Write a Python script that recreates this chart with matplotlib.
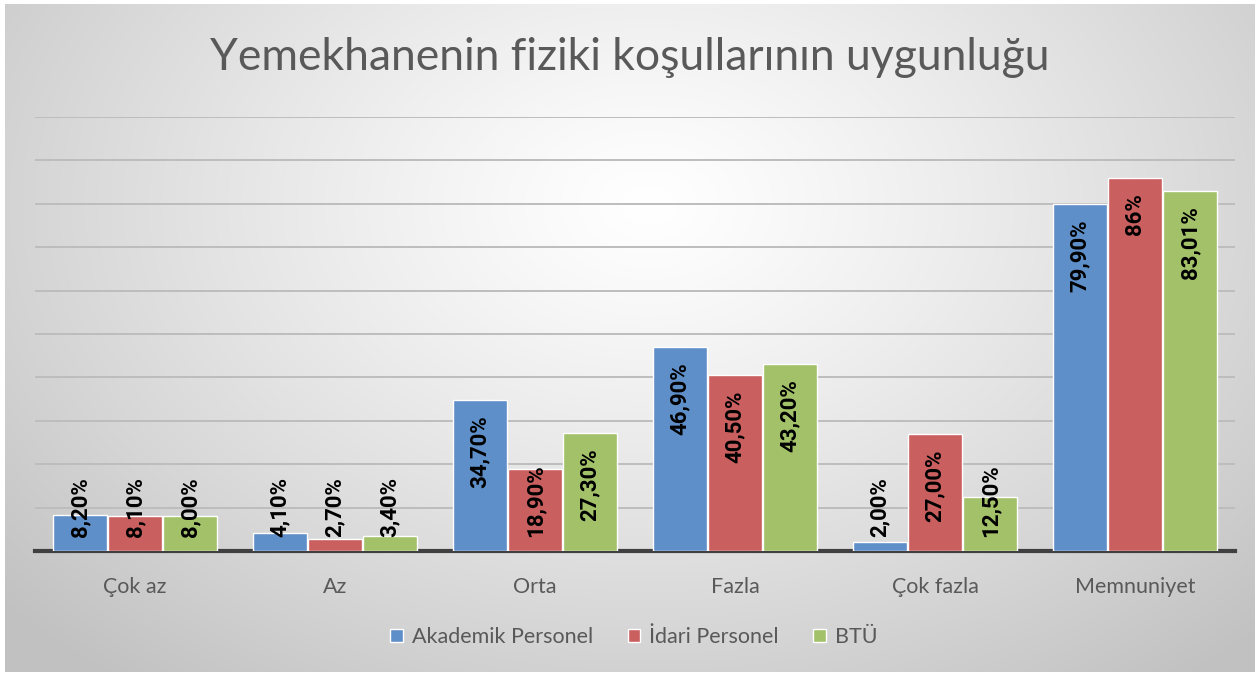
import numpy as np
import matplotlib
matplotlib.use("Agg")
import matplotlib.pyplot as plt

categories = ["Çok az", "Az", "Orta", "Fazla", "Çok fazla", "Memnuniyet"]
series_names = ["Akademik Personel", "İdari Personel", "BTÜ"]
akademik = [8.20, 4.10, 34.70, 46.90, 2.00, 79.90]
idari = [8.10, 2.70, 18.90, 40.50, 27.00, 86.00]
btu = [8.00, 3.40, 27.30, 43.20, 12.50, 83.01]
labels_akademik = ["8,20%", "4,10%", "34,70%", "46,90%", "2,00%", "79,90%"]
labels_idari = ["8,10%", "2,70%", "18,90%", "40,50%", "27,00%", "86%"]
labels_btu = ["8,00%", "3,40%", "27,30%", "43,20%", "12,50%", "83,01%"]
title = "Yemekhanenin fiziki koşullarının uygunluğu"

colors = ["#5F8FC9", "#C95F5E", "#A2C169"]

plt.rcParams['font.family'] = ['Lato', 'DejaVu Sans']

W, H = 1260, 675
fig = plt.figure(figsize=(W / 100, H / 100), dpi=100)
fig.patch.set_facecolor("white")

# background radial gradient
bg = fig.add_axes([5 / W, 3 / H, (W - 10) / W, (H - 7) / H])
bg.set_axis_off()
yy, xx = np.mgrid[0:400, 0:700]
cx, cy = 360, 120
d = np.sqrt(((xx - cx) / 480) ** 2 + ((yy - cy) / 360) ** 2)
d = np.clip(d, 0, 1)
val = 1.0 - 0.24 * d ** 1.2
img = np.dstack([val, val, val])
bg.imshow(img, aspect='auto', extent=[0, 1, 0, 1], origin='upper')
bg.set_xlim(0, 1)
bg.set_ylim(0, 1)

ax = fig.add_axes([35 / W, (H - 551) / H, 1200 / W, 434 / H])
ax.set_facecolor("none")
ax.set_xlim(-0.5, len(categories) - 0.5)
ax.set_ylim(0, 100)
ax.set_yticks(np.arange(0, 101, 10))
ax.yaxis.grid(True, color="#BDBDBD", linewidth=1.4)
ax.set_axisbelow(True)
ax.tick_params(axis='y', left=False, labelleft=False)
ax.tick_params(axis='x', bottom=False, labelsize=15.5, colors="#595959", pad=15)
for s in ["top", "right", "left"]:
    ax.spines[s].set_visible(False)
ax.spines["bottom"].set_color("#404040")
ax.spines["bottom"].set_linewidth(3)

x = np.arange(len(categories))
bw = 0.272
offsets = [-0.275, 0.0, 0.275]
all_vals = [akademik, idari, btu]
all_labels = [labels_akademik, labels_idari, labels_btu]
lab_font = dict(family=['Roboto', 'DejaVu Sans'], weight='bold', size=16)
for vals, labs, off, col, name in zip(all_vals, all_labels, offsets, colors, series_names):
    ax.bar(x + off, vals, bw, color=col, edgecolor="white", linewidth=1.0, label=name, zorder=3)
    for xi, v, lab in zip(x, vals, labs):
        if v > 20:
            ax.annotate(lab, (xi + off, v), xytext=(0, -11), textcoords='offset points',
                        rotation=90, ha='center', va='top', color='black', zorder=5,
                        **lab_font)
        else:
            ax.annotate(lab, (xi + off, 0), xytext=(0, 10), textcoords='offset points',
                        rotation=90, ha='center', va='bottom', color='black', zorder=5,
                        **lab_font)

ax.set_xticks(x)
ax.set_xticklabels(categories)

fig.text(0.5, (H - 58) / H, title, ha='center', va='center', fontsize=32,
         color="#595959", fontweight='normal')

leg = fig.legend(loc='center', bbox_to_anchor=(0.503, (H - 637) / H), ncol=3,
                 frameon=False, fontsize=15.5, handlelength=0.6, handleheight=0.6,
                 columnspacing=1.6, handletextpad=0.4)
for t in leg.get_texts():
    t.set_color("#595959")

fig.savefig("out.png", dpi=100)
